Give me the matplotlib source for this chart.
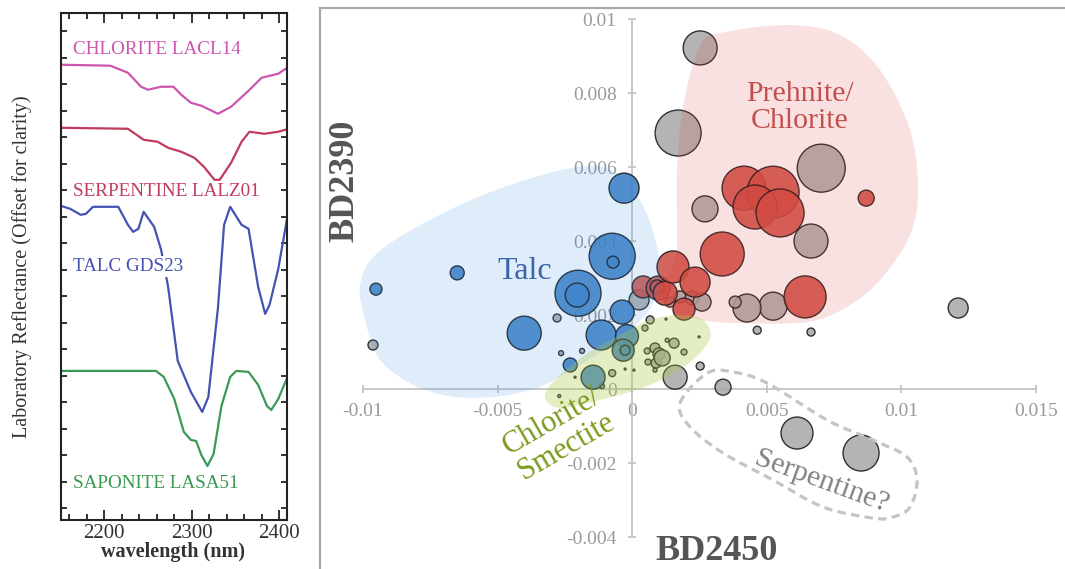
import numpy as np
import matplotlib.pyplot as plt
from matplotlib.path import Path
from matplotlib.patches import PathPatch
from matplotlib.ticker import MultipleLocator

plt.rcParams['font.family'] = ['Liberation Serif', 'DejaVu Serif']

# ---------------- left panel: lab spectra (offset reflectance) ----------------
chl_wl = [2150, 2207, 2227, 2242, 2250, 2265, 2279, 2288, 2299, 2311, 2330, 2345, 2365, 2380, 2399, 2411]
chl_r = [4.55, 4.54, 4.47, 4.33, 4.30, 4.33, 4.33, 4.25, 4.17, 4.14, 4.06, 4.13, 4.29, 4.42, 4.46, 4.53]

srp_wl = [2150, 2227, 2245, 2261, 2273, 2288, 2303, 2314, 2326, 2332, 2345, 2357, 2366, 2383, 2399, 2411]
srp_r = [3.92, 3.91, 3.80, 3.78, 3.72, 3.68, 3.62, 3.53, 3.40, 3.40, 3.57, 3.78, 3.88, 3.86, 3.88, 3.91]

tlc_wl = [2150, 2161, 2173, 2179, 2187, 2216, 2227, 2233, 2239, 2245, 2257, 2265, 2273, 2284,
          2299, 2312, 2319, 2330, 2337, 2344, 2357, 2365, 2376, 2384, 2389, 2399, 2411]
tlc_r = [3.14, 3.11, 3.05, 3.06, 3.13, 3.13, 2.95, 2.88, 2.91, 3.08, 2.93, 2.70, 2.33, 1.59,
         1.28, 1.08, 1.23, 2.12, 2.95, 3.13, 2.95, 2.91, 2.33, 2.06, 2.15, 2.51, 3.11]

sap_wl = [2150, 2259, 2268, 2280, 2291, 2299, 2305, 2311, 2318, 2325, 2334, 2344, 2351, 2365,
          2376, 2386, 2391, 2399, 2411]
sap_r = [1.49, 1.49, 1.43, 1.21, 0.88, 0.80, 0.79, 0.65, 0.54, 0.66, 1.14, 1.43, 1.49, 1.48,
         1.35, 1.14, 1.10, 1.21, 1.46]

spec_names = ['CHLORITE LACL14', 'SERPENTINE LALZ01', 'TALC GDS23', 'SAPONITE LASA51']
spec_label_y = [4.70, 3.28, 2.53, 0.36]
spec_cols = ['#cc55b0', '#c23a5c', '#4452b4', '#3a9a52']

# ---------------- right panel: BD2450 vs BD2390 (units of 1e-3) ----------------
blue_x = [-0.30, -0.74, -0.71, -6.50, -9.52, -2.01, -2.04, -4.01, -0.37, -1.15, -0.19, -0.33, -0.26, -2.30, -1.45]
blue_y = [5.43, 3.59, 3.43, 3.14, 2.70, 2.59, 2.54, 1.51, 2.08, 1.46, 1.43, 1.05, 1.05, 0.65, 0.32]
blue_w = [15, 23, 6, 7, 6, 23, 12, 17, 12, 15, 11.5, 11, 5, 7, 12]

red_x = [0.41, 0.97, 0.93, 1.23, 1.52, 2.34, 1.93, 3.35, 4.16, 5.24, 4.57, 5.50, 8.70, 6.43]
red_y = [2.76, 2.73, 2.76, 2.59, 3.30, 2.89, 2.16, 3.65, 5.43, 5.32, 4.92, 4.76, 5.16, 2.49]
red_w = [11, 12, 7, 12, 16, 15, 11, 22, 22, 26, 22, 24, 8, 21]

gray_x = [2.53, 1.71, 7.03, 2.71, 6.65, 5.24, 4.27, 3.83, 4.65, 6.65, 12.12, 1.60, 3.38, 2.53,
          6.13, 8.51, 0.26, -9.63, -2.79, -2.64, -1.86, -0.74, -1.12, -0.26, 0.07, -2.12, -2.71,
          0.67, 0.48, 1.26, 2.49, 0.56, 0.85, 1.00, 1.30, 1.56, 1.93, 0.89, 1.12, 0.59, 0.85,
          1.78, 2.23, 2.60, 1.41]
gray_y = [9.22, 6.92, 5.97, 4.87, 4.00, 2.24, 2.19, 2.35, 1.59, 1.54, 2.19, 0.32, 0.05, 0.62,
          -1.19, -1.73, 2.41, 1.19, 1.92, 0.97, 1.03, 0.43, 0.08, 0.54, 0.51, 0.32, -0.19,
          1.87, 1.65, 1.89, 1.41, 1.03, 1.11, 0.95, 1.32, 1.24, 1.00, 0.70, 0.84, 0.73, 0.51,
          2.49, 2.46, 2.35, 2.35]
gray_w = [17, 23, 24, 13, 17, 14, 14, 6, 4, 4, 10, 12, 8, 4,
          16, 18, 10, 5, 4, 2.5, 2.5, 3.5, 2.5, 1, 1, 1, 1.5,
          4, 3, 1, 1, 3, 5, 6, 2, 5, 3, 5, 8, 3, 2,
          6, 7, 9, 5]

# region outlines
talc_rx = [1.04, 0.85, -0.07, -1.93, -3.79, -6.02, -7.88, -9.37, -9.92, -10.11, -9.55, -7.88, -5.28, -2.30, -0.63, 0.48]
talc_ry = [3.35, 2.41, 1.59, 0.65, -0.03, -0.24, 0.03, 0.78, 1.87, 2.81, 3.62, 4.43, 5.32, 5.97, 5.87, 4.84]

preh_rx = [1.04, 1.60, 1.67, 1.67, 1.90, 2.53, 3.45, 5.87, 7.73, 9.22, 10.33, 10.63, 10.33, 9.22, 7.99, 6.50, 4.01, 2.53, 1.41]
preh_ry = [2.54, 3.49, 4.30, 5.95, 7.65, 9.30, 9.65, 9.84, 9.57, 8.62, 7.00, 5.38, 4.16, 2.95, 2.22, 1.81, 1.78, 1.87, 2.14]

cs_rx = [-3.23, -2.68, -1.19, 0.67, 2.16, 2.90, 2.64, 1.78, 0.67, -0.45, -1.75, -2.94]
cs_ry = [-0.24, -0.51, -0.30, 0.11, 0.73, 1.38, 1.87, 2.00, 1.87, 1.46, 0.92, 0.19]

serp_rx = [1.78, 2.79, 3.75, 5.02, 7.25, 8.96, 10.22, 10.59, 10.33, 9.70, 8.96, 7.10, 5.24, 3.38, 2.16]
serp_ry = [-0.38, 0.43, 0.46, 0.16, -0.84, -1.38, -1.84, -2.46, -3.19, -3.46, -3.49, -3.19, -2.46, -1.73, -1.03]

xticks = [-0.01, -0.005, 0, 0.005, 0.01, 0.015]
xtick_labels = ['-0.01', '-0.005', '0', '0.005', '0.01', '0.015']
yticks = [-0.004, -0.002, 0, 0.002, 0.004, 0.006, 0.008, 0.01]
ytick_labels = ['-0.004', '-0.002', '0', '0.002', '0.004', '0.006', '0.008', '0.01']


def blob(xs, ys):
    # closed smooth outline through the points (Catmull-Rom as cubic Beziers)
    p = np.column_stack([xs, ys]) * 1e-3
    n = len(p)
    verts = [p[0]]
    codes = [Path.MOVETO]
    for i in range(n):
        p0, p1, p2, p3 = p[i - 1], p[i], p[(i + 1) % n], p[(i + 2) % n]
        verts += [p1 + (p2 - p0) / 6, p2 - (p3 - p1) / 6, p2]
        codes += [Path.CURVE4] * 3
    return Path(verts, codes)


def msize(w):
    return (1.44 * np.array(w)) ** 2


fig = plt.figure(figsize=(10.65, 5.69), dpi=100)

# ---- left panel ----
ax1 = fig.add_axes([0.0569, 0.0861, 0.2126, 0.8916])
for wl, r, c in zip([chl_wl, srp_wl, tlc_wl, sap_wl], [chl_r, srp_r, tlc_r, sap_r], spec_cols):
    ax1.plot(wl, r, color=c, lw=1.6, zorder=2)
for name, yy, c in zip(spec_names, spec_label_y, spec_cols):
    ax1.text(2164, yy, name, color=c, fontsize=13.8, va='center', ha='left', zorder=3,
             bbox=dict(facecolor='white', edgecolor='none', pad=1.5))
ax1.set_xlim(2150, 2409)
ax1.set_ylim(0, 5.07)
ax1.set_xticks([2200, 2300, 2400])
ax1.xaxis.set_minor_locator(MultipleLocator(20))
ax1.set_yticks(0.12 + 0.2647 * np.arange(19))
ax1.set_yticklabels([])
ax1.tick_params(which='both', direction='in', top=True, right=True, color='#222222', width=1.3)
ax1.tick_params(which='major', length=7)
ax1.tick_params(which='minor', length=4)
ax1.tick_params(axis='y', length=4)
ax1.tick_params(axis='x', labelsize=15, labelcolor='#333333', pad=3)
for s in ax1.spines.values():
    s.set_linewidth(1.5)
    s.set_color('#222222')
fig.text(21.7 / 1065, 1 - 267 / 569, 'Laboratory Reflectance (Offset for clarity)', rotation=90,
         ha='center', va='center', fontsize=14.5, color='#333333')
fig.text(173 / 1065, 1 - 552 / 569, 'wavelength (nm)', ha='center', va='center',
         fontsize=14.5, weight='bold', color='#333333')

# ---- right panel ----
rect = [320 / 1065, 0, 745 / 1065, 561 / 569]
axf = fig.add_axes(rect)
axf.set_xticks([])
axf.set_yticks([])
for k in ['right', 'bottom']:
    axf.spines[k].set_visible(False)
for k in ['left', 'top']:
    axf.spines[k].set_color('#a8a8a8')
    axf.spines[k].set_linewidth(1.6)

ax = fig.add_axes(rect, facecolor='none')
ax.set_xlim(-11.60e-3, 16.09e-3)
ax.set_ylim(-4.865e-3, 10.30e-3)
ax.spines['left'].set_position(('data', 0))
ax.spines['bottom'].set_position(('data', 0))
ax.spines['top'].set_visible(False)
ax.spines['right'].set_visible(False)
ax.spines['left'].set_bounds(-0.004, 0.01)
ax.spines['bottom'].set_bounds(-0.01, 0.015)
for k in ['left', 'bottom']:
    ax.spines[k].set_color('#c4c4c4')
    ax.spines[k].set_linewidth(1.3)
ax.set_xticks(xticks, xtick_labels)
ax.set_yticks(yticks, ytick_labels)
ax.tick_params(direction='inout', length=6, width=1.3, color='#c4c4c4',
               labelcolor='#9a9a9a', labelsize=14)
ax.tick_params(axis='y', pad=8)
ax.tick_params(axis='x', pad=7)
ax.set_axisbelow(True)

ec = '#1a1a1a'
ax.scatter(np.array(gray_x) * 1e-3, np.array(gray_y) * 1e-3, s=msize(gray_w), c='#aaaaaa',
           edgecolors=ec, linewidths=1.0, alpha=0.88, zorder=3)
ax.scatter(np.array(blue_x) * 1e-3, np.array(blue_y) * 1e-3, s=msize(blue_w), c='#4282c6',
           edgecolors=ec, linewidths=1.0, alpha=0.9, zorder=3)
ax.scatter(np.array(red_x) * 1e-3, np.array(red_y) * 1e-3, s=msize(red_w), c='#cf4f45',
           edgecolors=ec, linewidths=1.0, alpha=0.88, zorder=3)

ax.add_patch(PathPatch(blob(talc_rx, talc_ry), facecolor='#3a90e0', edgecolor='none', alpha=0.16, zorder=4))
ax.add_patch(PathPatch(blob(preh_rx, preh_ry), facecolor='#de3a3a', edgecolor='none', alpha=0.15, zorder=4))
ax.add_patch(PathPatch(blob(cs_rx, cs_ry), facecolor='#a8c840', edgecolor='none', alpha=0.3, zorder=4))
ax.add_patch(PathPatch(blob(serp_rx, serp_ry), fill=False, edgecolor='#c4c4c4', lw=2.3,
                       linestyle=(0, (2.6, 1.7)), zorder=5))

ax.text(-3.98e-3, 3.19e-3, 'Talc', color='#3c64a8', fontsize=23, ha='center', va='center', zorder=6)
ax.text(6.24e-3, 7.62e-3, 'Prehnite/\nChlorite', color='#c0504d', fontsize=21.5, ha='center',
        va='center', linespacing=1.05, zorder=6)
ax.text(-2.70e-3, -1.22e-3, 'Chlorite/\nSmectite', color='#7d9b1f', fontsize=22, ha='center',
        va='center', rotation=30, linespacing=1.0, zorder=6)
ax.text(7.06e-3, -2.51e-3, 'Serpentine?', color='#808080', fontsize=21.5, ha='center',
        va='center', rotation=-20, zorder=6)

fig.text(345 / 1065, 1 - 181 / 569, 'BD2390', rotation=90, ha='center', va='center',
         fontsize=26, weight='bold', color='#555555')
fig.text(717 / 1065, 1 / 569, 'BD2450', ha='center', va='bottom',
         fontsize=26, weight='bold', color='#555555')

plt.savefig('out.png', dpi=100)
